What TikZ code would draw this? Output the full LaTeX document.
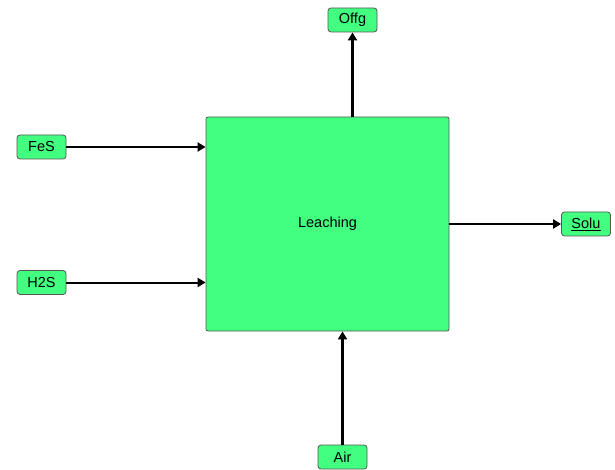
\documentclass[tikz,border=0pt]{standalone}
\usepackage{fontspec}
\setmainfont{Liberation Sans}
\usetikzlibrary{arrows.meta}
\definecolor{unitfill}{HTML}{42FF80}
\definecolor{unitedge}{HTML}{555555}
\begin{document}
\begin{tikzpicture}[x=1pt,y=-1pt,
  unit/.style={draw=unitedge, fill=unitfill, line width=0.8pt, rounded corners=2pt},
  stream/.style={draw=unitedge, fill=unitfill, line width=0.8pt, rounded corners=3pt,
    minimum width=49pt, minimum height=24pt, inner sep=0pt, font=\fontsize{14.5}{16}\selectfont},
  flow/.style={-{Triangle[length=8pt,width=9pt]}, line width=2.8pt},
  thinflow/.style={-{Triangle[length=8pt,width=9pt]}, line width=2pt}]
\useasboundingbox (0,0) rectangle (615,470);
\node[unit, minimum width=243pt, minimum height=214pt, inner sep=0pt,
  font=\fontsize{14.5}{16}\selectfont] (leach) at (327.5,224) {Leaching};
\node[stream] (offg) at (352.5,20) {Offg};
\node[stream] (fes) at (41.5,147) {FeS};
\node[stream] (h2s) at (41.5,282.5) {H2S};
\node[stream] (solu) at (586,224) {\underline{Solu}};
\node[stream] (air) at (342.5,457) {Air};
\draw[flow] (leach.north -| offg) -- (offg.south);
\draw[flow] (fes.east) -- (fes.east -| leach.west);
\draw[thinflow] (h2s.east) -- (h2s.east -| leach.west);
\draw[thinflow] (leach.east) -- (solu.west);
\draw[flow] (air.north) -- (air.north |- leach.south);
\end{tikzpicture}
\end{document}
